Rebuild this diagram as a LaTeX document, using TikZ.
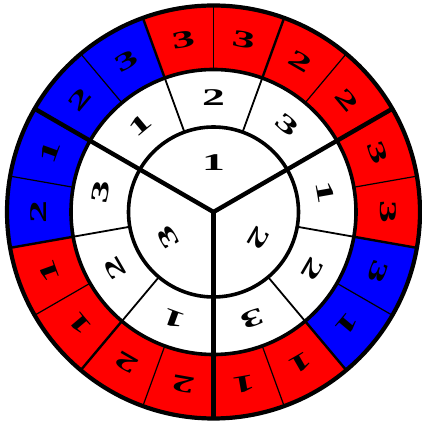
\documentclass[tikz,border=0pt]{standalone}
\usepackage{fontspec}
\setmainfont{Liberation Serif}
\usetikzlibrary{calc}
\definecolor{cred}{RGB}{255,0,0}
\definecolor{cblue}{RGB}{0,0,255}
\tikzset{
  dig/.style={inner sep=0pt, font=\fontsize{24}{24}\selectfont\bfseries},
  circ/.style={line width=3.6pt},
  outercirc/.style={line width=4.2pt},
  thicksep/.style={line width=4.4pt, line cap=butt},
  medsep/.style={line width=2.4pt},
  thinsep/.style={line width=1.2pt},
  midsep/.style={line width=1.8pt}
}
\newcommand{\wdig}[1]{\scalebox{1.9}[1]{#1}}
\begin{document}
\begin{tikzpicture}[x=1pt,y=1pt]
\useasboundingbox (0,0) rectangle (421,425);
\fill[white] (0,0) rectangle (421,425);
\coordinate (O) at (213.5,213);
\def\Ro{206.5}
\def\Rm{142.5}
\def\Ri{85}
% outer ring cells
\foreach \a/\c/\d in {0/cred/3,20/cred/3,40/cred/2,60/cred/2,80/cred/3,100/cred/3,
  120/cblue/3,140/cblue/2,160/cblue/1,180/cblue/2,200/cred/1,220/cred/1,
  240/cred/2,260/cred/2,280/cred/1,300/cred/1,320/cblue/1,340/cblue/3}{
  \fill[\c] ([shift={(\a-10:\Ro)}]O) arc[start angle=\a-10, end angle=\a+10, radius=\Ro]
     -- ([shift={(\a+10:\Rm)}]O) arc[start angle=\a+10, end angle=\a-10, radius=\Rm] -- cycle;
  \node[dig, rotate=\a-90] (o\a) at ([shift={(\a:174.5)}]O) {\wdig{\d}};
}
% middle ring digits
\foreach \a/\d in {90/2,50/3,10/1,330/2,290/3,250/1,210/2,170/3,130/1}{
  \node[dig, rotate=\a-90] (m\a) at ([shift={(\a:114)}]O) {\wdig{\d}};
}
% inner digits
\node[dig] (i90) at ([shift={(90:49)}]O) {\wdig{1}};
\node[dig, rotate=120] (i210) at ([shift={(210:52)}]O) {\wdig{3}};
\node[dig, rotate=240] (i330) at ([shift={(330:52)}]O) {\wdig{2}};
% separators
\foreach \a in {10,50,90,130,170,210,250,290,330}
  \draw[thinsep] ([shift={(\a:\Rm)}]O) -- ([shift={(\a:\Ro)}]O);
\foreach \a in {70,110,190,230,310,350}{
  \draw[medsep] ([shift={(\a:\Rm)}]O) -- ([shift={(\a:\Ro)}]O);
  \draw[midsep] ([shift={(\a:\Ri)}]O) -- ([shift={(\a:\Rm)}]O);
}
\foreach \a in {30,150,270}
  \draw[thicksep] (O) -- ([shift={(\a:\Ro)}]O);
% circles
\draw[circ] (O) circle[radius=\Ri];
\draw[circ] (O) circle[radius=\Rm];
\draw[outercirc] (O) circle[radius=\Ro];
\end{tikzpicture}
\end{document}
